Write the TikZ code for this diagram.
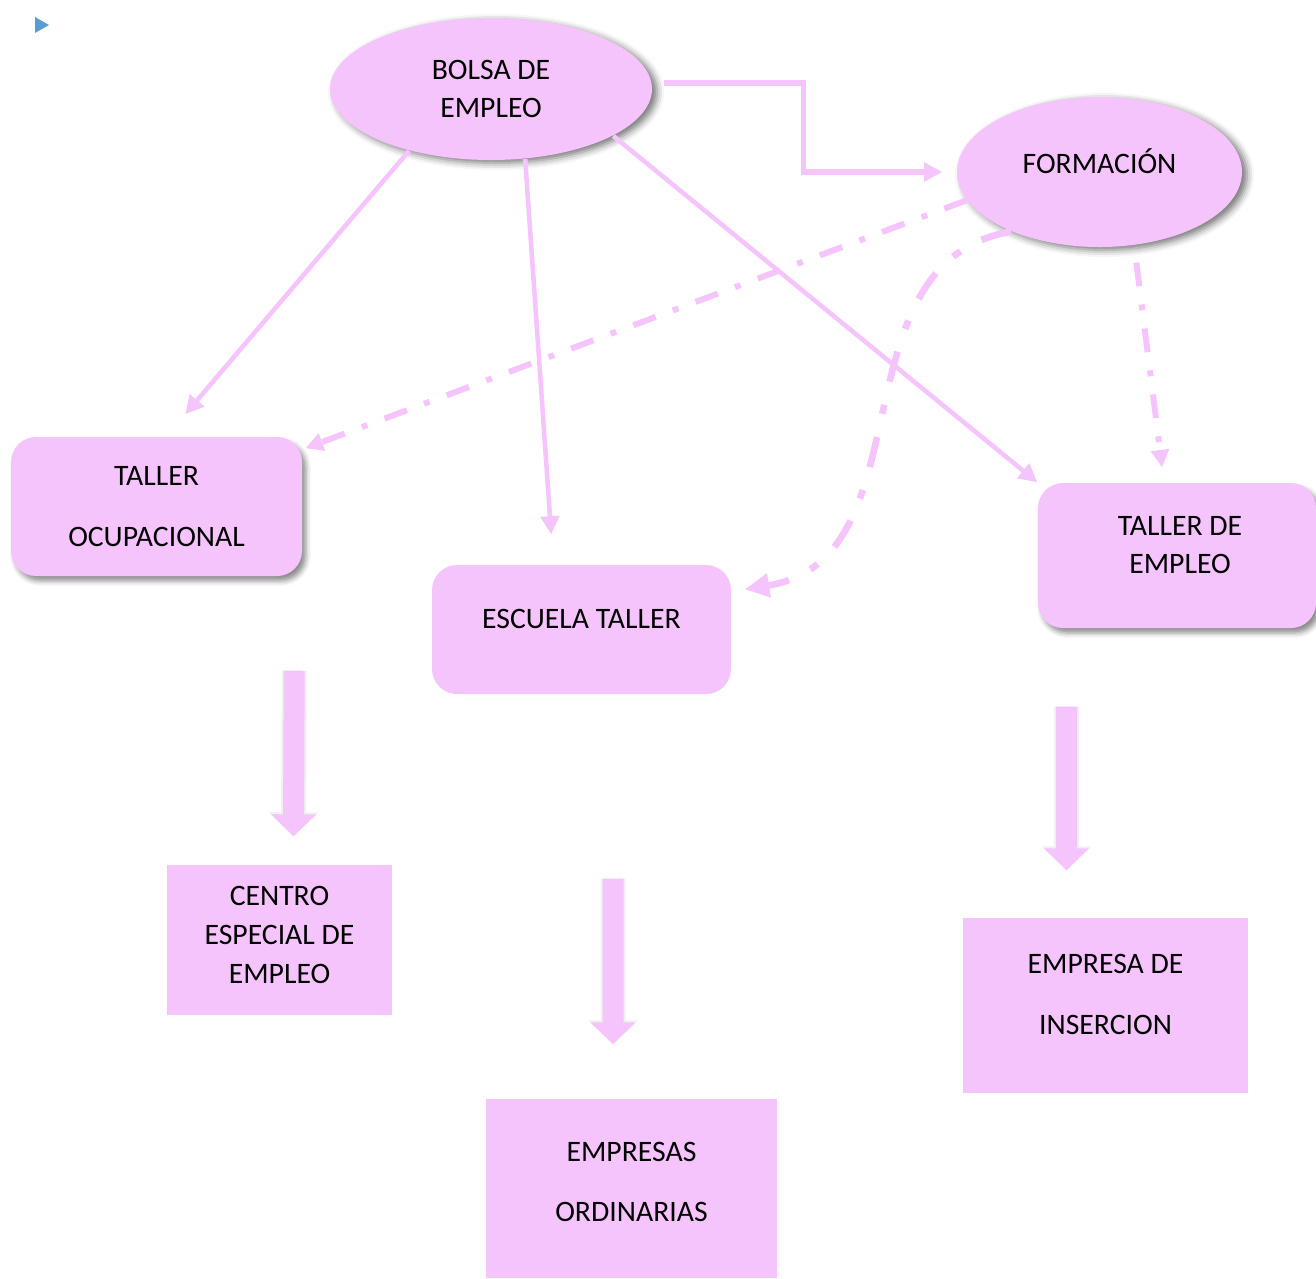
\documentclass[tikz,border=0pt]{standalone}
\usepackage{fontspec}
\setmainfont{Carlito}
\usepackage{tikz}
\usetikzlibrary{arrows.meta,shapes.geometric,shadows,shadows.blur}

\definecolor{pinkbox}{RGB}{246,196,252}
\definecolor{markblue}{RGB}{91,155,213}

\begin{document}
\begin{tikzpicture}[font=\fontsize{8.45}{11}\selectfont,
	oval/.style={ellipse,fill=pinkbox,inner sep=0pt,align=center,
		blur shadow={shadow xshift=0.05cm,shadow yshift=-0.03cm,shadow blur radius=0.07cm,shadow opacity=55}},
	roundbox/.style={rectangle,rounded corners=0.25cm,fill=pinkbox,inner sep=0pt,align=center},
	boxshadow/.style={blur shadow={shadow xshift=0.04cm,shadow yshift=-0.05cm,shadow blur radius=0.05cm,shadow opacity=45}},
	flatbox/.style={rectangle,fill=pinkbox,inner sep=0pt,align=center},
	txt/.style={align=center,inner sep=0pt},
	conn/.style={draw=pinkbox,line width=1.3pt,-{Triangle[length=5.2pt,width=5.2pt]}},
	dd/.style={draw=pinkbox,line width=1.7pt,dash pattern=on 6.8pt off 5.2pt on 1.7pt off 5.2pt,
		-{Triangle[length=5pt,width=5pt]}},
	ddcurve/.style={draw=pinkbox,line width=1.9pt,dash pattern=on 8.8pt off 6.8pt on 2.6pt off 6.8pt,
		-{Triangle[length=7pt,width=6.5pt]}},
	bigarrow/.style={draw=pinkbox,line width=0.21cm,-{Triangle[length=0.22cm,width=0.44cm]},
		preaction={draw=black!6,line width=0.25cm,-{Triangle[length=0.24cm,width=0.48cm]}}}]

	\useasboundingbox (0,0) rectangle (13.16,-12.78);

	% marker

	\fill[markblue] (0.35,-0.17) -- (0.35,-0.33) -- (0.49,-0.25) -- cycle;

	% ovals

	\node[oval,minimum width=3.22cm,minimum height=1.42cm] (bolsa) at (4.91,-0.89) {BOLSA DE\\EMPLEO};
	\node[oval,minimum width=2.85cm,minimum height=1.50cm,
		label={[txt,yshift=0.11cm]center:FORMACIÓN}] (formacion) at (10.995,-1.72) {};

	% boxes

	\node[roundbox,boxshadow,minimum width=2.91cm,minimum height=1.39cm] (tocup) at (1.565,-5.065) {TALLER\\[6.2pt]OCUPACIONAL};
	\node[roundbox,minimum width=2.99cm,minimum height=1.29cm,
		label={[txt,yshift=0.105cm]center:ESCUELA TALLER}] (escuela) at (5.815,-6.295) {};
	\node[roundbox,boxshadow,minimum width=2.78cm,minimum height=1.45cm,
		label={[txt,xshift=0.03cm,yshift=0.105cm]center:TALLER DE\\EMPLEO}] (templeo) at (11.77,-5.555) {};
	\node[flatbox,minimum width=2.25cm,minimum height=1.50cm,
		label={[txt,yshift=0.05cm]center:CENTRO\\ESPECIAL DE\\EMPLEO}] (centro) at (2.795,-9.40) {};
	\node[flatbox,minimum width=2.91cm,minimum height=1.79cm,
		label={[txt,yshift=0.065cm]center:EMPRESAS\\[6.2pt]ORDINARIAS}] (empresas) at (6.315,-11.885) {};
	\node[flatbox,minimum width=2.85cm,minimum height=1.75cm,
		label={[txt,yshift=0.11cm]center:EMPRESA DE\\[6.2pt]INSERCION}] (insercion) at (11.055,-10.055) {};

	% solid connectors

	\draw[conn,shorten >=0.29cm] (bolsa.217) -- ([xshift=0.10cm]tocup.north);
	\draw[conn,shorten >=0.30cm] (bolsa.296) -- ([xshift=1.22cm]escuela.north west);
	\draw[conn] (bolsa.339) -- (templeo.north west);
	\draw[conn,line width=1.45pt,shorten <=0.11cm,shorten >=0.14cm] ([yshift=0.06cm]bolsa.east) -- ++(1.51,0) |- (formacion.west);

	% dash-dot connectors

	\draw[dd,shorten >=0.03cm] (formacion.192) -- ([yshift=-0.13cm]tocup.north east);
	\draw[dd,shorten <=0.15cm,shorten >=0.15cm] ([xshift=0.35cm]formacion.south) -- ([xshift=-0.13cm]templeo.north);
	\draw[ddcurve] (formacion.214) .. controls +(-1.80,-0.31) and +(1.86,0.30) .. ([xshift=0.13cm,yshift=-0.25cm]escuela.north east);

	% block arrows

	\draw[bigarrow] ([xshift=-0.085cm,yshift=-0.94cm]tocup.south east) -- ([xshift=0.14cm,yshift=0.28cm]centro.north);
	\draw[bigarrow] ([xshift=0.315cm,yshift=-1.84cm]escuela.south) -- ([xshift=-0.185cm,yshift=0.54cm]empresas.north);
	\draw[bigarrow] ([xshift=-1.105cm,yshift=-0.78cm]templeo.south) -- ([xshift=-0.39cm,yshift=0.47cm]insercion.north);

\end{tikzpicture}
\end{document}
